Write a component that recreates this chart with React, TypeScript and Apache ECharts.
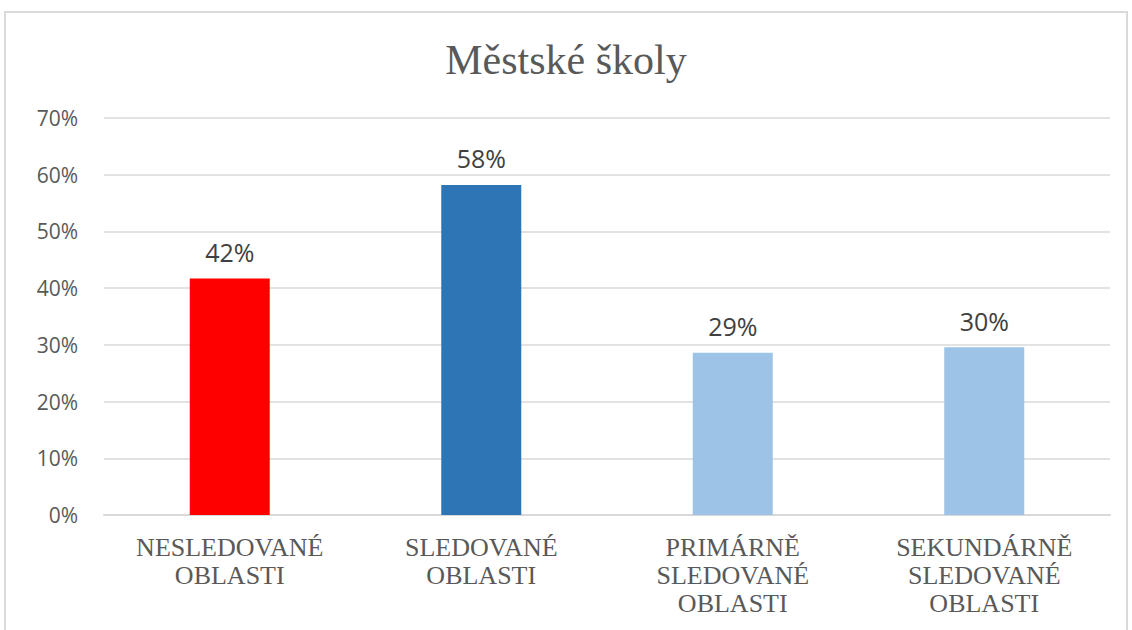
import React, { useEffect, useRef } from "react";
import * as echarts from "echarts";

const categories = [
  "NESLEDOVANÉ\nOBLASTI",
  "SLEDOVANÉ\nOBLASTI",
  "PRIMÁRNĚ\nSLEDOVANÉ\nOBLASTI",
  "SEKUNDÁRNĚ\nSLEDOVANÉ\nOBLASTI",
];
const values = [0.417, 0.582, 0.286, 0.296];
const barColors = ["#FF0000", "#2E75B6", "#9DC3E6", "#9DC3E6"];
const yTicks = [0, 0.1, 0.2, 0.3, 0.4, 0.5, 0.6, 0.7];

export default function App() {
  const ref = useRef<HTMLDivElement>(null);
  useEffect(() => {
    if (!ref.current) return;
    const chart = echarts.init(ref.current, undefined, { renderer: "svg" });
    chart.setOption({
      animation: false,
      backgroundColor: "#ffffff",
      title: {
        text: "Městské školy",
        left: "center",
        top: 34,
        textStyle: {
          fontFamily: "Liberation Serif",
          fontSize: 42,
          fontWeight: "normal",
          color: "#595959",
        },
      },
      graphic: [
        {
          type: "rect",
          shape: { x: 5, y: 12, width: 1122, height: 640 },
          style: { fill: "none", stroke: "#d9d9d9", lineWidth: 2 },
          silent: true,
        },
      ],
      grid: { left: 104, right: 22, top: 118, bottom: 115 },
      xAxis: {
        type: "category",
        data: categories,
        axisTick: { show: false },
        axisLine: { lineStyle: { color: "#d9d9d9", width: 2 } },
        axisLabel: {
          interval: 0,
          margin: 18,
          fontFamily: "Liberation Serif",
          fontSize: 26,
          lineHeight: 28,
          color: "#595959",
        },
      },
      yAxis: {
        type: "value",
        min: 0,
        max: 0.7,
        interval: 0.1,
        axisLine: { show: false },
        axisTick: { show: false },
        splitLine: { lineStyle: { color: "#d9d9d9", width: 1.5 } },
        axisLabel: {
          margin: 26,
          fontFamily: "Open Sans",
          fontSize: 21,
          color: "#595959",
          formatter: (v: number) => {
            const t = yTicks.find((x) => Math.abs(x - v) < 1e-6);
            return Math.round((t ?? v) * 100) + "%";
          },
        },
      },
      series: [
        {
          type: "bar",
          barWidth: 80,
          data: values.map((v, i) => ({
            value: v,
            itemStyle: { color: barColors[i] },
          })),
          label: {
            show: true,
            position: "top",
            distance: 14,
            fontFamily: "Open Sans",
            fontSize: 25,
            color: "#404040",
            formatter: (p: any) => Math.round(p.value * 100) + "%",
          },
        },
      ],
    });
    return () => chart.dispose();
  }, []);
  return (
    <div
      ref={ref}
      style={{ position: "fixed", left: 0, top: 0, width: 1132, height: 630 }}
    />
  );
}
